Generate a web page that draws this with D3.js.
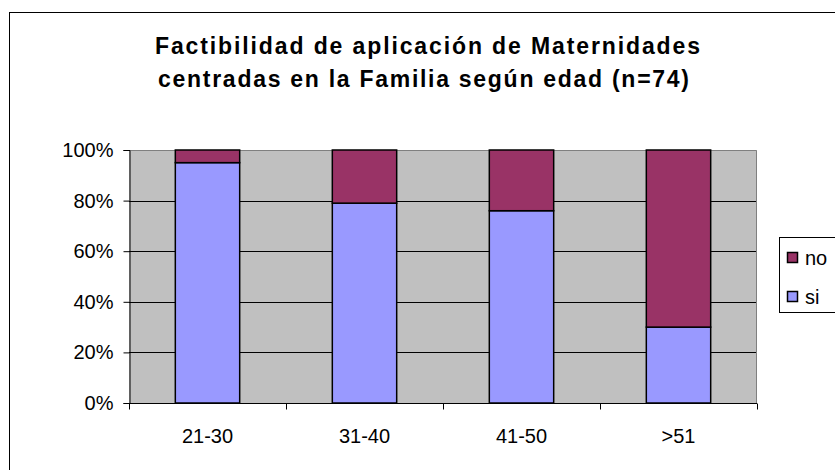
<!DOCTYPE html>
<html><head><meta charset="utf-8">
<script src="https://cdn.jsdelivr.net/npm/d3@7"></script>
<style>body{margin:0;background:#fff}svg{display:block}text{font-family:"Liberation Sans",Arial,sans-serif}</style>
</head><body><svg id="c" width="835" height="470"></svg>
<script>
const categories = ["21-30", "31-40", "41-50", ">51"];
const siValues = [95, 79, 76, 30];
const noValues = [5, 21, 24, 70];
const yTicks = [0, 20, 40, 60, 80, 100];
const titleLines = ["Factibilidad de aplicación de Maternidades", "centradas en la Familia según edad (n=74)"];
const seriesNames = ["no", "si"];
const colors = {si: "#9999FF", no: "#993366"};

const svg = d3.select("#c");
svg.append("rect").attr("x", 9.5).attr("y", 12.5).attr("width", 840).attr("height", 470)
  .attr("fill", "#fff").attr("stroke", "#000").attr("stroke-width", 1);

const L = 129, R = 757, T = 150, B = 403;
const x = d3.scaleBand().domain(categories).range([L, R]).padding(0);
const y = d3.scaleLinear().domain([0, 100]).range([B, T]);

svg.append("rect").attr("x", L).attr("y", T).attr("width", R - L).attr("height", B - T).attr("fill", "#C0C0C0");
svg.append("g").selectAll("line").data(yTicks.filter(t => t > 0 && t < 100)).join("line")
  .attr("x1", L).attr("x2", R).attr("y1", d => Math.round(y(d)) + 0.5).attr("y2", d => Math.round(y(d)) + 0.5)
  .attr("stroke", "#000").attr("stroke-width", 1);
svg.append("path").attr("d", `M${L},${T + 0.5}H${R - 0.5}V${B}`).attr("fill", "none").attr("stroke", "#808080").attr("stroke-width", 1);

const data = categories.map((c, i) => ({cat: c, si: siValues[i], no: noValues[i]}));
const stack = d3.stack().keys(["si", "no"])(data);
const barW = x.bandwidth() * 0.41;
const g = svg.append("g");
stack.forEach(s => {
  g.selectAll(null).data(s).join("rect")
    .attr("x", d => x(d.data.cat) + (x.bandwidth() - barW) / 2)
    .attr("y", d => y(d[1]))
    .attr("width", barW)
    .attr("height", d => y(d[0]) - y(d[1]))
    .attr("fill", colors[s.key])
    .attr("stroke", "#000").attr("stroke-width", 1.5);
});

const yAxis = svg.append("g").attr("transform", `translate(${L + 0.5},0)`)
  .call(d3.axisLeft(y).tickValues(yTicks).tickFormat(d => d + "%").tickSize(6).tickPadding(10));
yAxis.select(".domain").attr("stroke", "#000");
yAxis.selectAll("text").attr("font-size", 20).attr("fill", "#000").style("font-family", '"Liberation Sans",Arial,sans-serif');

const xAxis = svg.append("g").attr("transform", `translate(0,${B + 0.5})`);
xAxis.append("line").attr("x1", L).attr("x2", R).attr("stroke", "#000");
const bounds = categories.map(c => x(c)).concat([R]);
xAxis.selectAll("line.tk").data(bounds).join("line").attr("class", "tk")
  .attr("x1", d => Math.round(d) + 0.5).attr("x2", d => Math.round(d) + 0.5).attr("y1", 0).attr("y2", 6).attr("stroke", "#000");
xAxis.selectAll("text").data(categories).join("text")
  .attr("x", d => x(d) + x.bandwidth() / 2).attr("y", 39)
  .attr("text-anchor", "middle").attr("font-size", 20).attr("fill", "#000").text(d => d);

svg.selectAll("text.title").data(titleLines).join("text").attr("class", "title")
  .attr("x", (d, i) => i === 0 ? 155 : 158).attr("y", (d, i) => 54 + i * 33)
  .attr("font-size", 23).attr("font-weight", "bold").attr("fill", "#000")
  .attr("textLength", (d, i) => i === 0 ? 545 : 531).attr("lengthAdjust", "spacing")
  .text(d => d);

const lg = svg.append("g");
lg.append("rect").attr("x", 779.5).attr("y", 237.5).attr("width", 70).attr("height", 75)
  .attr("fill", "#fff").attr("stroke", "#000");
seriesNames.forEach((n, i) => {
  const cy = 258 + i * 39;
  lg.append("rect").attr("x", 787.5).attr("y", cy - 5.5).attr("width", 10).attr("height", 10)
    .attr("fill", colors[n]).attr("stroke", "#000").attr("stroke-width", 1.5);
  lg.append("text").attr("x", 805).attr("y", cy + 7).attr("font-size", 20).attr("fill", "#000").text(n);
});
</script></body></html>
